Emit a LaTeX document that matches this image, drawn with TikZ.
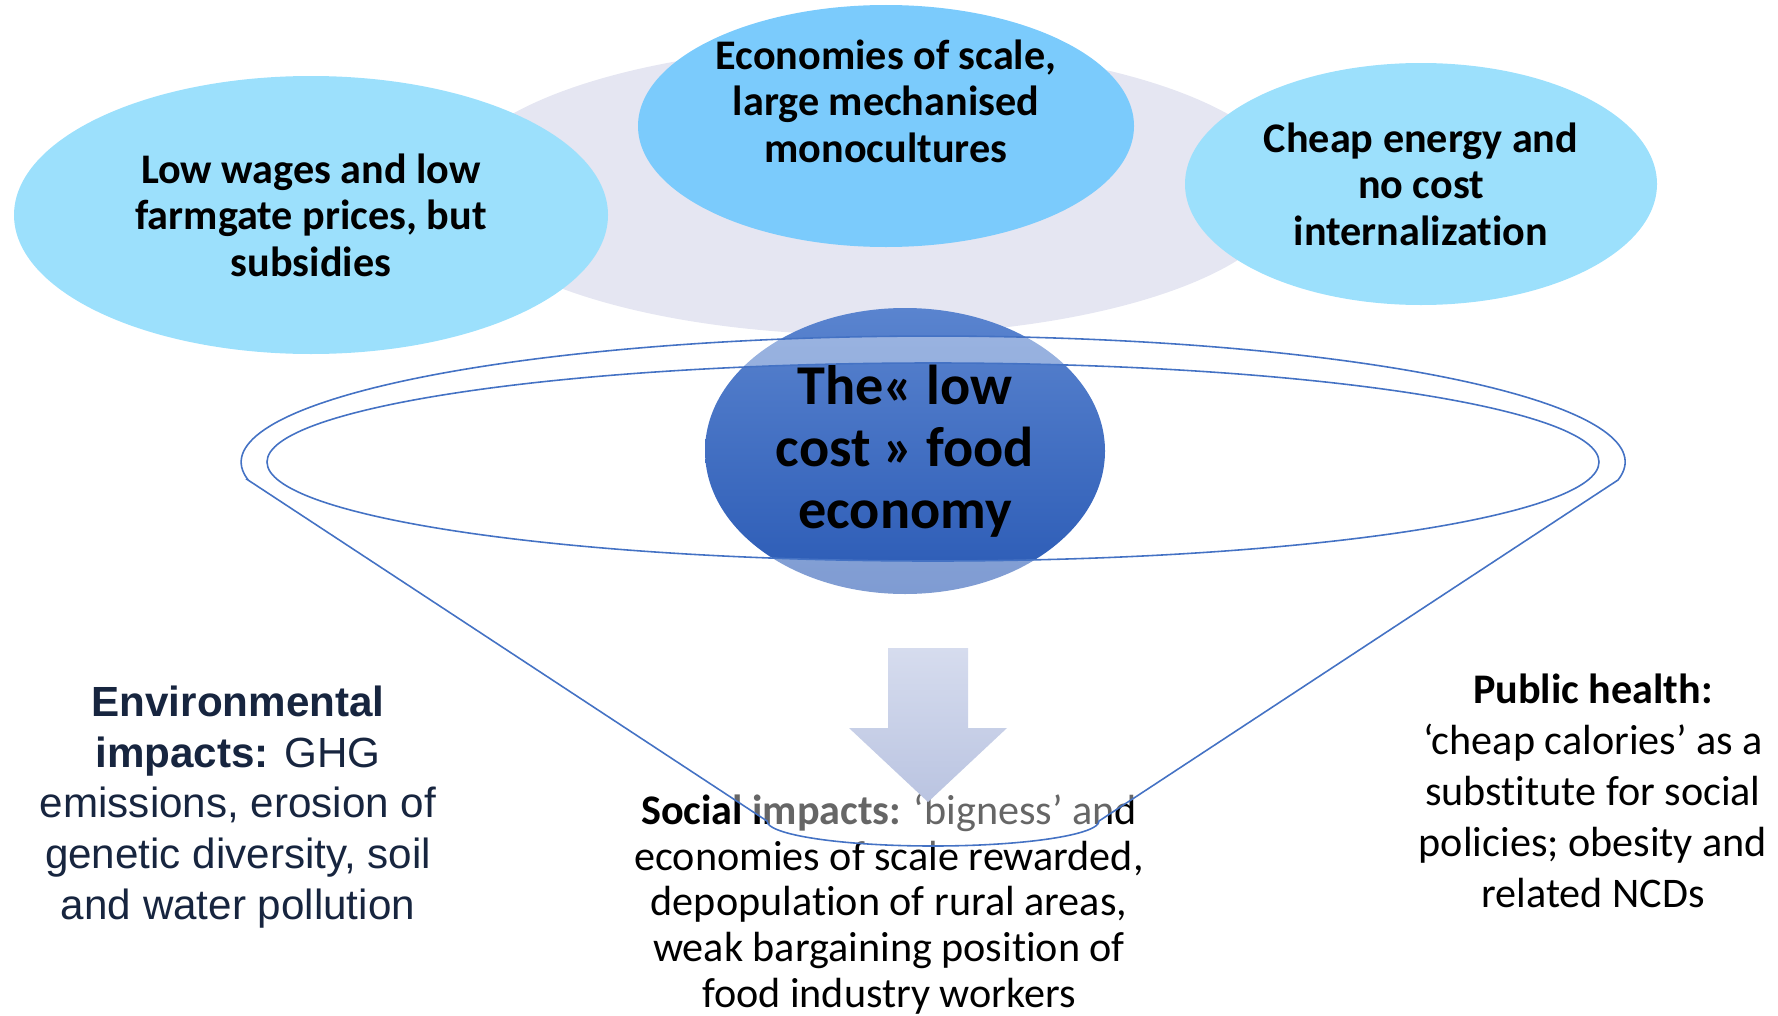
\documentclass[tikz,border=0pt]{standalone}
\usepackage{fontspec}
\setmainfont[Ligatures=NoCommon]{Carlito}
\newfontfamily\arialfont{Liberation Sans}
\usetikzlibrary{shapes.geometric}

\definecolor{paleblue}{HTML}{9CE0FC}
\definecolor{skyblue}{HTML}{7BCBFC}
\definecolor{haze}{HTML}{E5E6F2}
\definecolor{funnelblue}{HTML}{4472C4}
\definecolor{coretop}{HTML}{5A84CF}
\definecolor{corebottom}{HTML}{2A5AB5}
\definecolor{navy}{HTML}{17253F}
\definecolor{arrowtop}{HTML}{D6DCEE}
\definecolor{arrowbottom}{HTML}{BAC4E1}

\begin{document}
\begin{tikzpicture}[
		bubble/.style = {
			ellipse,
			inner sep = 0pt,
			align = center,
			font = \fontsize{12}{13.2}\selectfont\bfseries
		},
		impact/.style = {
			align = center,
			font = \fontsize{12}{14.5}\selectfont
		},
		funnel/.style = {
			draw = funnelblue,
			line width = 0.45pt
		}
	]
	\useasboundingbox (0,0) rectangle (17.78,-10.16);
	\node[ellipse, fill=haze, minimum width=8.4cm, minimum height=2.9cm] (back) at (8.70,-1.90) {};
	\node[bubble, fill=paleblue, minimum width=5.94cm, minimum height=2.78cm] (wages) at (3.11,-2.15) {Low wages and low\\farmgate prices, but\\subsidies};
	\node[bubble, fill=skyblue, minimum width=4.96cm, minimum height=2.42cm] (scale) at (8.86,-1.26) {};
	\node[bubble] (scaletext) at ([yshift=0.25cm]scale.center) {Economies of scale,\\large mechanised\\monocultures};
	\node[bubble, fill=paleblue, minimum width=4.72cm, minimum height=2.42cm] (energy) at (14.21,-1.84) {Cheap energy and\\no cost\\internalization};
	\node[bubble, top color=coretop, bottom color=corebottom, minimum width=4.0cm, minimum height=2.86cm, font=\fontsize{16}{17.6}\selectfont\bfseries] (core) at (9.05,-4.51) {The« low\\cost » food\\economy};

	\node[impact, font=\arialfont\fontsize{12}{14.4}\selectfont, text=navy] (env) at (2.38,-8.07) {\textbf{Environmental}\\\textbf{impacts:} GHG\\emissions, erosion of\\genetic diversity, soil\\and water pollution};
	\node[impact, font=\fontsize{12}{13}\selectfont] (social) at (8.89,-9.04) {\textbf{Social impacts:} ‘bigness’ and\\economies of scale rewarded,\\depopulation of rural areas,\\weak bargaining position of\\food industry workers};
	\node[impact] (health) at (15.93,-7.91) {\textbf{Public health:}\\‘cheap calories’ as a\\substitute for social\\policies; obesity and\\related NCDs};

	\coordinate (rimL) at (2.48,-4.80);
	\coordinate (rimR) at (16.18,-4.80);
	\coordinate (neckL) at (7.67,-8.21);
	\coordinate (mouth) at (9.33,-4.62);
	\fill[white, fill opacity=0.4, even odd rule] (rimL) -- (neckL) arc[start angle=180, end angle=360, x radius=1.66, y radius=0.25] -- (rimR) arc[start angle=-8.2, end angle=188.2, x radius=6.92, y radius=1.26] -- cycle (mouth) ellipse[x radius=6.66, y radius=0.99];
	\draw[funnel] (rimL) -- (neckL) arc[start angle=180, end angle=360, x radius=1.66, y radius=0.25] -- (rimR) arc[start angle=-8.2, end angle=188.2, x radius=6.92, y radius=1.26] -- cycle;
	\draw[funnel] (mouth) ellipse[x radius=6.66, y radius=0.99];

	\shade[top color=arrowtop, bottom color=arrowbottom] (8.88,-6.48) -- (9.68,-6.48) -- (9.68,-7.28) -- (10.07,-7.28) -- (9.28,-8.02) -- (8.49,-7.28) -- (8.88,-7.28) -- cycle;
\end{tikzpicture}
\end{document}
